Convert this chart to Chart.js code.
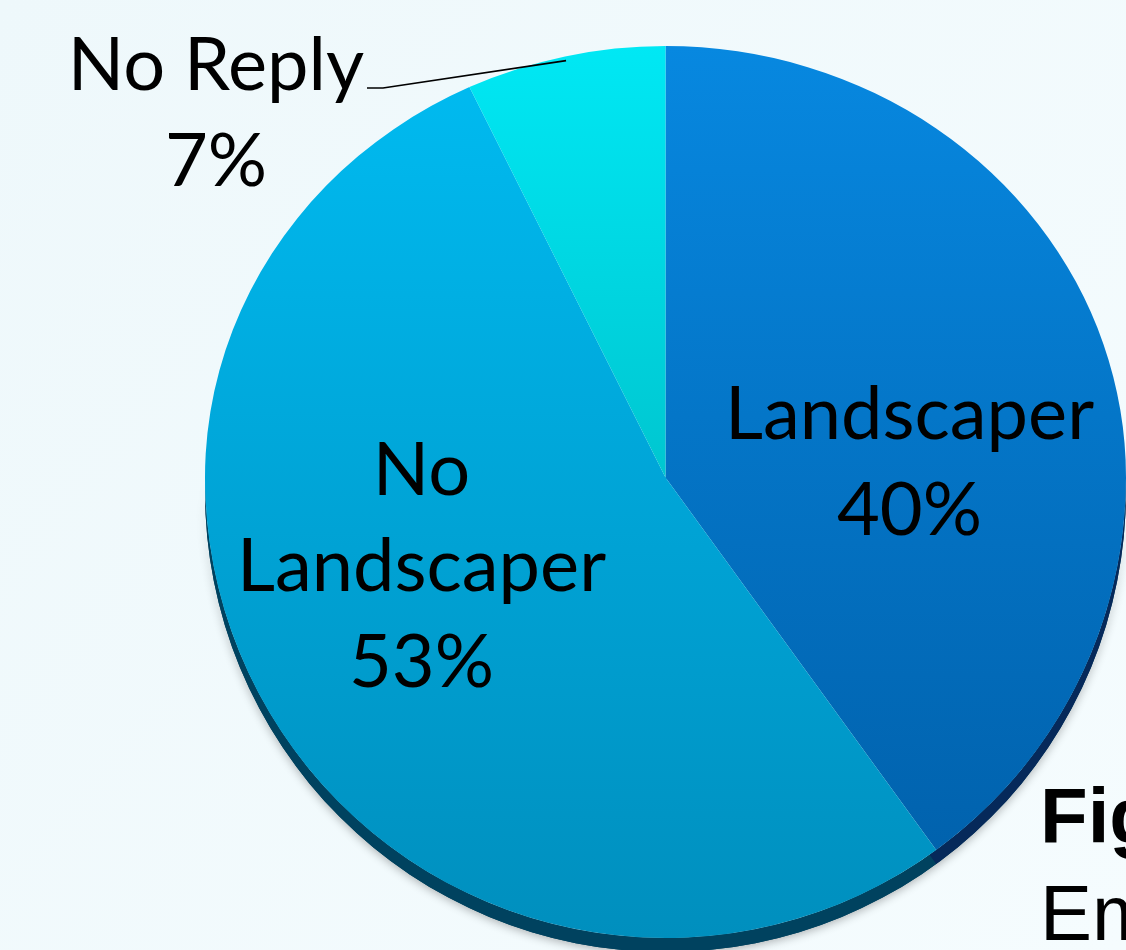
<!DOCTYPE html>
<html>
<head>
<meta charset="utf-8">
<script src="https://cdn.jsdelivr.net/npm/chart.js@4/dist/chart.umd.min.js"></script>
<style>
  html, body { margin: 0; padding: 0; background: #f2fafc; overflow: hidden; }
  canvas { display: block; }
</style>
</head>
<body>
<canvas id="graficoPizza" width="1126" height="950"></canvas>
<script>
// data
const categories = ["Landscaper", "No Landscaper", "No Reply"];
const shares = [40, 53, 7];
const labelLines = [["Landscaper"], ["No", "Landscaper"], ["No Reply"]];

// colours (top / bottom of each face, and the dark rim)
const faceTop = ["#0788e0", "#00bcf2", "#00e8f4"];
const faceBottom = ["#005ea8", "#008fbe", "#00a4ac"];
const rimColors = ["#06295a", "#00425f", "#00505a"];

const tilt = 0.937;   // far half of the pie looks squashed (perspective)
const depth = 14;     // thickness of the rim

function clipHalf(ctx, chart, y, upper) {
  ctx.beginPath();
  if (upper) ctx.rect(0, 0, chart.width, Math.ceil(y) + 1);
  else ctx.rect(0, Math.floor(y), chart.width, chart.height);
  ctx.clip();
}

function rimPath(ctx, x, y, r) {
  ctx.beginPath();
  ctx.arc(x, y + depth, r, 0, Math.PI, false);
  ctx.arc(x, y, r, Math.PI, 0, true);
  ctx.closePath();
}

const tiltPlugin = {
  id: 'tilt',
  beforeDraw(chart) {
    const ctx = chart.ctx;
    const g = ctx.createLinearGradient(0, 0, chart.width, chart.height);
    g.addColorStop(0, "#eef8fb");
    g.addColorStop(1, "#f5fcfe");
    ctx.save();
    ctx.fillStyle = g;
    ctx.fillRect(0, 0, chart.width, chart.height);
    ctx.restore();
  },
  beforeDatasetsDraw(chart) {
    const ctx = chart.ctx;
    const arcs = chart.getDatasetMeta(0).data;
    const { x, y } = arcs[0];
    const r = arcs[0].outerRadius;
    // rim (crescent under the near half) with a soft shadow
    ctx.save();
    rimPath(ctx, x, y, r);
    ctx.fillStyle = rimColors[1];
    ctx.shadowColor = 'rgba(0,0,0,0.3)';
    ctx.shadowBlur = 10;
    ctx.shadowOffsetY = 2;
    ctx.fill();
    ctx.shadowColor = 'transparent';
    rimPath(ctx, x, y, r);
    ctx.clip();
    arcs.forEach((a, i) => {
      ctx.beginPath();
      ctx.moveTo(x, y + depth);
      ctx.arc(x, y + depth, a.outerRadius + 2, a.startAngle, a.endAngle);
      ctx.closePath();
      ctx.fillStyle = rimColors[i];
      ctx.fill();
    });
    ctx.restore();
    // far half: squashed faces drawn by Chart.js
    ctx.save();
    clipHalf(ctx, chart, y, true);
    ctx.translate(x, y);
    ctx.scale(1, tilt);
    ctx.translate(-x, -y);
  },
  afterDatasetsDraw(chart) {
    const ctx = chart.ctx;
    ctx.restore();
    // near half: same arcs, unsquashed
    const arcs = chart.getDatasetMeta(0).data;
    ctx.save();
    clipHalf(ctx, chart, arcs[0].y, false);
    arcs.forEach(a => a.draw(ctx));
    ctx.restore();
  },
  afterDraw(chart) {
    const ctx = chart.ctx;
    const arcs = chart.getDatasetMeta(0).data;
    const { x, y } = arcs[0];
    const r = arcs[0].outerRadius;
    ctx.save();
    ctx.fillStyle = "#000";
    ctx.textAlign = "center";
    ctx.textBaseline = "alphabetic";
    ctx.font = "74px Lato";
    const lh = 96;
    const spots = [
      { cx: x + 244, top: 439 },
      { cx: x - 244, top: 495 },
      { cx: 216, top: 90 }
    ];
    spots.forEach((s, i) => {
      const lines = labelLines[i].concat([shares[i] + "%"]);
      lines.forEach((t, k) => ctx.fillText(t, s.cx, s.top + k * lh));
    });
    // leader line for No Reply
    const nr = arcs[2];
    const mid = (nr.startAngle + nr.endAngle) / 2;
    const ex = x + Math.cos(mid) * r * 0.99;
    const ey = y + Math.sin(mid) * r * 0.99 * tilt;
    ctx.strokeStyle = "#000";
    ctx.lineWidth = 1.6;
    ctx.beginPath();
    ctx.moveTo(367, 88);
    ctx.lineTo(383, 88);
    ctx.lineTo(ex, ey);
    ctx.stroke();
    // caption (cut off at the edge)
    ctx.textAlign = "left";
    ctx.font = "bold 78px 'Liberation Sans'";
    ctx.fillText("Fig", 1040, 843);
    ctx.font = "78px 'Liberation Sans'";
    ctx.fillText("Em", 1040, 940);
    ctx.restore();
  }
};

new Chart(document.getElementById("graficoPizza"), {
  type: 'pie',
  data: {
    labels: categories,
    datasets: [{
      data: shares,
      borderWidth: 0,
      clip: false,
      backgroundColor: (c) => {
        const area = c.chart.chartArea;
        if (!area) return faceTop[c.dataIndex];
        const g = c.chart.ctx.createLinearGradient(0, area.top, 0, area.bottom);
        g.addColorStop(0, faceTop[c.dataIndex]);
        g.addColorStop(1, faceBottom[c.dataIndex]);
        return g;
      }
    }]
  },
  options: {
    responsive: false,
    animation: false,
    events: [],
    layout: { padding: { left: 205, right: 0, top: 17, bottom: 12 } },
    plugins: {
      legend: { display: false },
      tooltip: { enabled: false }
    }
  },
  plugins: [tiltPlugin]
});
</script>
</body>
</html>
